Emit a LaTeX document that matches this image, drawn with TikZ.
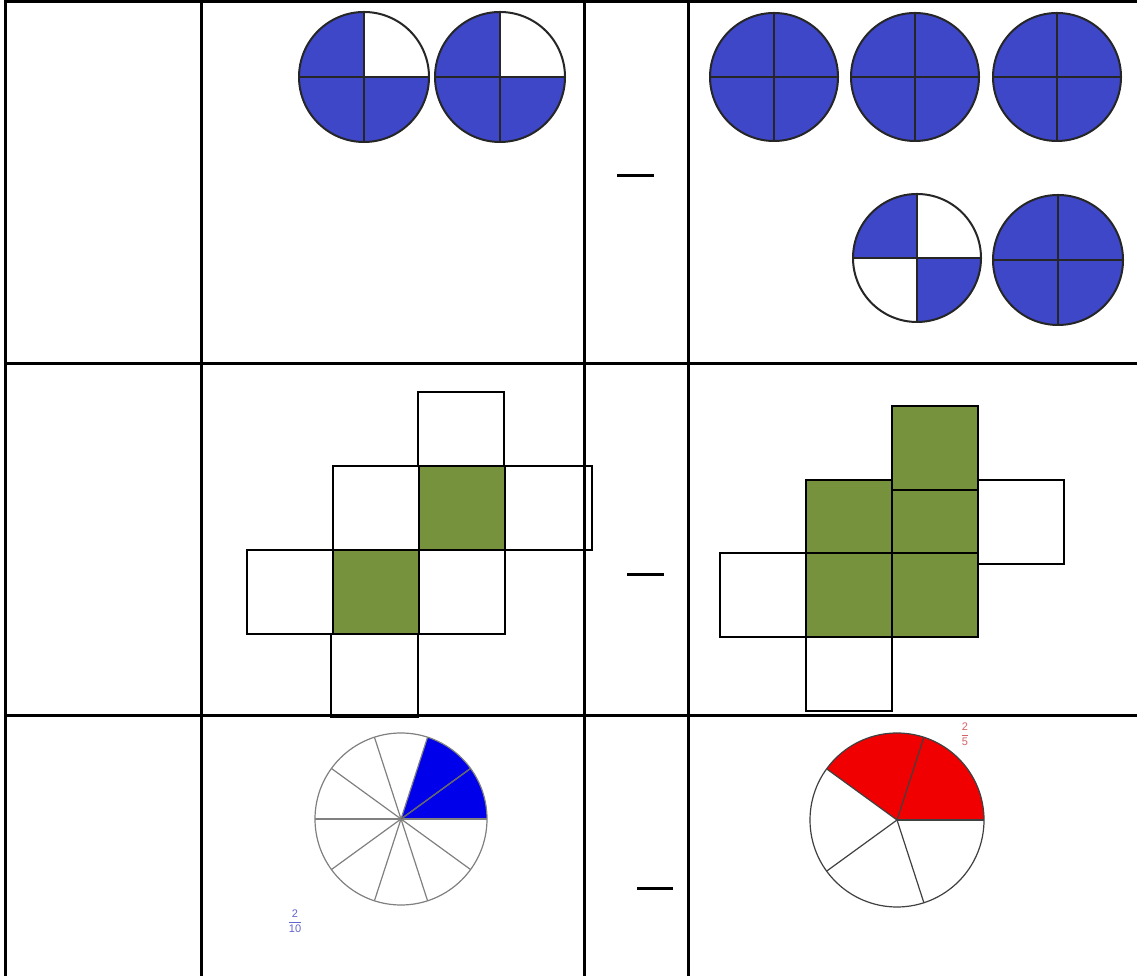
\documentclass[tikz,border=0pt]{standalone}
\usepackage{fontspec}
\setmainfont{Liberation Sans}
\usepackage{tikz}
\definecolor{quarterblue}{RGB}{61,71,200}
\definecolor{tilegreen}{RGB}{119,146,60}
\definecolor{pieblue}{RGB}{0,0,235}
\definecolor{piered}{RGB}{240,0,0}
\definecolor{labelblue}{RGB}{100,100,205}
\definecolor{labelred}{RGB}{210,100,100}

\begin{document}
\begin{tikzpicture}[x=1pt,y=1pt,
  rule/.style={line width=3pt},
  quarter/.style={line width=2pt,draw=black!85},
  tile/.style={draw=black,line width=1.8pt},
  slice/.style={draw=gray,line width=1.2pt},
  minus/.style={line width=3pt}]
  \useasboundingbox (0,0) rectangle (1137,976);
  \fill[white] (0,0) rectangle (1137,976);
  % table
  \draw[rule] (5,0) -- (5,974) -- (1137,974);
  \draw[rule] (5,612) -- (1137,612);
  \draw[rule] (5,260) -- (1137,260);
  \draw[rule] (201,0) -- (201,974);
  \draw[rule] (584,0) -- (584,974);
  \draw[rule] (688,0) -- (688,974);
  % quarter circles
  \foreach \cx/\cy/\r/\qs in {364/899/65/{1,2,3}, 500/899/65/{1,2,3},
      774/899/64/{0,1,2,3}, 915/899/64/{0,1,2,3}, 1057/899/64/{0,1,2,3},
      917/718/64/{1,3}, 1058/716/65/{0,1,2,3}}{
    \foreach \q in \qs
      \fill[quarterblue] (\cx,\cy) -- ++(\q*90:\r)
        arc[start angle=\q*90,delta angle=90,radius=\r] -- cycle;
    \draw[quarter] (\cx,\cy) circle[radius=\r];
    \draw[quarter] (\cx-\r,\cy) -- (\cx+\r,\cy) (\cx,\cy-\r) -- (\cx,\cy+\r);
  }
  % tiles
  \foreach \x/\y/\w/\h in {418/510/86/74, 333/426/86/84, 505/426/87/84,
      247/342/86/84, 419/342/86/84, 331/259/87/83,
      978/412/86/84, 720/339/86/84, 806/265/86/74}
    \draw[tile] (\x,\y) rectangle ++(\w,\h);
  \foreach \x/\y/\w/\h in {419/426/86/84, 333/342/86/84,
      892/486/86/84, 806/423/86/73, 892/423/86/63,
      806/339/86/84, 892/339/86/84}
    \draw[tile,fill=tilegreen] (\x,\y) rectangle ++(\w,\h);
  % pies
  \fill[pieblue] (401,157) -- ++(0:86) arc[start angle=0,end angle=72,radius=86] -- cycle;
  \foreach \a in {0,36,...,324}
    \draw[slice] (401,157) -- ++(\a:86);
  \draw[slice,draw=black!60] (401,157) -- ++(36:86);
  \draw[slice] (401,157) circle[radius=86];
  \fill[piered] (897,156) -- ++(0:87) arc[start angle=0,end angle=144,radius=87] -- cycle;
  \foreach \a in {0,72,...,288}
    \draw[slice,draw=black!75] (897,156) -- ++(\a:87);
  \draw[slice,draw=black!75] (897,156) circle[radius=87];
  % labels
  \node[text=labelblue,font=\fontsize{11}{13}\selectfont] (tenths) at (295,55)
    {$\displaystyle\frac{\mbox{2}}{\mbox{10}}$};
  \node[text=labelred,font=\fontsize{11}{13}\selectfont] (fifths) at (965,242)
    {$\displaystyle\frac{\mbox{2}}{\mbox{5}}$};
  % minus signs
  \draw[minus] (617,800) -- (654,800);
  \draw[minus] (627,401) -- (664,401);
  \draw[minus] (637,87) -- (673,87);
\end{tikzpicture}
\end{document}
